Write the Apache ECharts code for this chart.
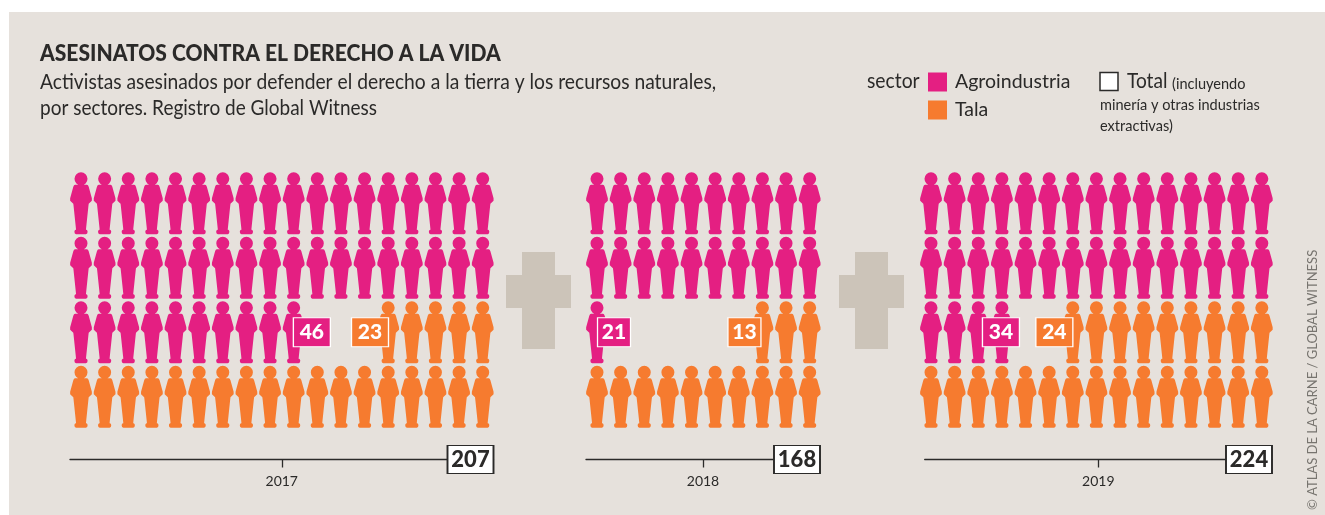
<!DOCTYPE html>
<html><head><meta charset="utf-8">
<style>html,body{margin:0;padding:0;background:#fff}#c{width:1325px;height:515px}</style>
<script src="https://cdn.jsdelivr.net/npm/echarts@6/dist/echarts.min.js"></script>
</head><body><div id="c"></div>
<script>
const years = ['2017', '2018', '2019'];
const agroindustria = [46, 21, 34];
const tala = [23, 13, 24];
const totals = [207, 168, 224];
const columns = [18, 10, 15];

const PINK = '#e41f82', ORANGE = '#f67b2f', INK = '#2b2a29', PANEL = '#e6e1dc', PLUS = '#ccc4b9';
const FONT = 'Lato,"Liberation Sans",sans-serif';
const STEP = 23.63, TOP = 171, ROW = 64.5, AXIS_Y = 459.5, ROWS = 4, TOTAL_W = 46;
const lineStart = [70, 586, 924.7];
const lineEnd = [493.5, 820, 1272];
const firstCentre = [81, 597, 931];
const agroBoxOffset = [0.77, 0.72, -0.04];
const talaBoxOffset = [-0.77, -0.76, -0.78];
const PERSON = 'path://M17.6 6.6A6.6 6.6 0 1 1 4.4 6.6A6.6 6.6 0 1 1 17.6 6.6ZM5 12.4L17 12.4Q18.2 12.4 18.8 14.5L22 26L22 28.5L18.8 31.5L18.5 34L16 57.5L16.5 57.5Q17.7 58 17.7 59.5Q17.7 61.5 16 62L6 62Q4.3 61.5 4.3 59.5Q4.3 58 5.5 57.5L6 57.5L3.5 34L3.2 31.5L0 28.5L0 26L3.2 14.5Q3.8 12.4 5 12.4Z';

const grid = [], xAxis = [], yAxis = [], series = [];
years.forEach((year, i) => {
  const cols = columns[i], yMax = (AXIS_Y - TOP) / ROW;
  const w = lineEnd[i] - lineStart[i];
  const xMin = 0.5 - (firstCentre[i] - lineStart[i]) / STEP, xMax = xMin + w / STEP;
  grid.push({ left: lineStart[i], width: w, top: TOP, height: AXIS_Y - TOP });
  xAxis.push({ gridIndex: i, type: 'value', min: xMin, max: xMax, show: false });
  yAxis.push({ gridIndex: i, type: 'value', min: 0, max: yMax, inverse: true, show: false });
  xAxis.push({
    gridIndex: i, type: 'category', data: [year], position: 'bottom', boundaryGap: true,
    axisLine: { show: true, lineStyle: { color: INK, width: 1.3 } },
    axisTick: { show: true, alignWithLabel: true, length: 8, lineStyle: { color: INK, width: 1.3 } },
    axisLabel: { show: true, color: INK, fontFamily: FONT, fontSize: 14, margin: 15 }
  });
  const xIdx = i * 2;
  // Agroindustria fills from the top-left, Tala from the bottom-right, one figure per person.
  const agroPts = [], talaPts = [];
  for (let k = 0; k < agroindustria[i]; k++) agroPts.push([k % cols + 0.5, Math.floor(k / cols) + 0.5]);
  for (let k = 0; k < tala[i]; k++) talaPts.push([cols - (k % cols) - 0.5, ROWS - Math.floor(k / cols) - 0.5]);
  const common = { type: 'scatter', xAxisIndex: xIdx, yAxisIndex: i, symbol: PERSON, symbolSize: [21.7, 62], silent: true, clip: false };
  series.push(Object.assign({ name: 'Agroindustria', data: agroPts, itemStyle: { color: PINK, opacity: 1 } }, common));
  series.push(Object.assign({ name: 'Tala', data: talaPts, itemStyle: { color: ORANGE, opacity: 1 } }, common));
  const lastA = agroPts[agroPts.length - 1], lastT = talaPts[talaPts.length - 1];
  const box = (name, pt, off, val, color, w) => ({
    type: 'scatter', name, xAxisIndex: xIdx, yAxisIndex: i, z: 5, silent: true, clip: false,
    symbol: 'rect', symbolSize: [w, 29],
    itemStyle: { color, borderColor: '#fff', borderWidth: 1.2, opacity: 1 },
    label: { show: true, position: 'inside', formatter: String(val), color: '#fff', fontFamily: FONT, fontWeight: 900, fontSize: 21 },
    data: [[pt[0] + off, pt[1]]]
  });
  series.push(box('Agroindustria', lastA, agroBoxOffset[i], agroindustria[i], PINK, i === 1 ? 33 : 37));
  series.push(box('Tala', lastT, talaBoxOffset[i], tala[i], ORANGE, i === 1 ? 33 : 37));
  series.push({
    type: 'scatter', name: 'Total', xAxisIndex: xIdx, yAxisIndex: i, z: 5, silent: true, clip: false,
    symbol: 'rect', symbolSize: [TOTAL_W, 28],
    itemStyle: { color: '#fff', borderColor: INK, borderWidth: 1.5, opacity: 1 },
    label: { show: true, position: 'inside', formatter: String(totals[i]), color: INK, fontFamily: FONT, fontWeight: 900, fontSize: 22 },
    data: [[xMax - (TOTAL_W / 2) / STEP, yMax]]
  });
});

const plus = (x) => ({
  type: 'polygon', z: -1, silent: true, style: { fill: PLUS },
  shape: { points: [[x + 16, 252], [x + 49, 252], [x + 49, 275], [x + 65, 275], [x + 65, 308], [x + 49, 308], [x + 49, 349], [x + 16, 349], [x + 16, 308], [x, 308], [x, 275], [x + 16, 275]] }
});
const txt = (x, y, text, size, scaleX, extra) => ({
  type: 'text', x, y, scaleX: scaleX || 1, silent: true,
  style: Object.assign({ text, fill: INK, font: size + 'px ' + FONT, verticalAlign: 'middle' }, extra || {})
});

const chart = echarts.init(document.getElementById('c'), null, { renderer: 'canvas' });
const credit = txt(1313, 510, '© ATLAS DE LA CARNE / GLOBAL WITNESS', 13, 1, { fill: '#77746f' });
credit.rotation = Math.PI / 2;
chart.setOption({
  animation: false,
  backgroundColor: '#fff',
  legend: {
    left: 928, top: 72, padding: 0, orient: 'vertical', selectedMode: false, itemWidth: 19, itemHeight: 19, itemGap: 8,
    icon: 'rect', data: ['Agroindustria', 'Tala'],
    textStyle: { color: INK, fontFamily: FONT, fontSize: 19.5, padding: [0, 0, 0, 3] }
  },
  grid, xAxis, yAxis, series,
  graphic: { elements: [
    { type: 'rect', z: -2, silent: true, shape: { x: 9, y: 12, width: 1316, height: 503 }, style: { fill: PANEL } },
    plus(506), plus(839),
    txt(40, 54, 'ASESINATOS CONTRA EL DERECHO A LA VIDA', 23, 0.915, { font: '900 23px ' + FONT }),
    txt(40, 82, 'Activistas asesinados por defender el derecho a la tierra y los recursos naturales,', 21, 0.917),
    txt(40, 108, 'por sectores. Registro de Global Witness', 21, 0.904),
    txt(867, 81, 'sector', 21, 0.92),
    { type: 'rect', silent: true, shape: { x: 1100, y: 72.5, width: 18, height: 18 }, style: { fill: '#fff', stroke: INK, lineWidth: 1.5 } },
    txt(1127, 81, 'Total', 21, 0.91),
    txt(1172, 84, '(incluyendo', 15, 0.97),
    txt(1100, 105, 'minería y otras industrias', 15, 0.97),
    txt(1100, 126, 'extractivas)', 15, 0.97),
    credit
  ] }
});
</script></body></html>
